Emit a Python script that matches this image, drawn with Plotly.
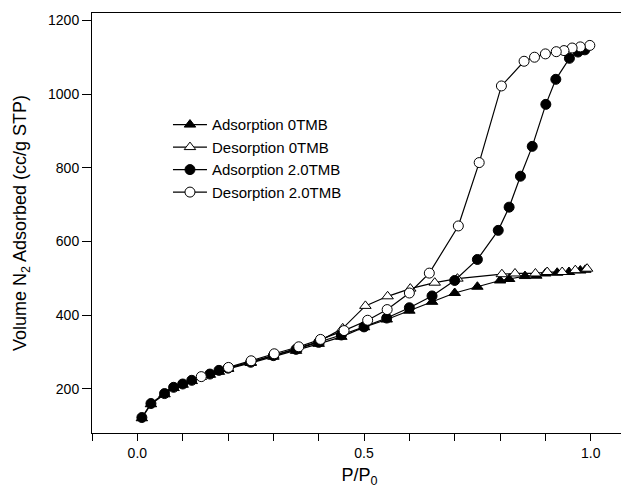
import plotly.graph_objects as go

# Adsorption 0TMB (filled triangles)
ads0_x = [0.01, 0.03, 0.06, 0.08, 0.10, 0.12, 0.16, 0.18, 0.20, 0.25, 0.30, 0.35, 0.40,
          0.45, 0.50, 0.55, 0.60, 0.65, 0.70, 0.75, 0.80, 0.82, 0.855, 0.88, 0.90, 0.926, 0.952, 0.977, 0.988]
ads0_y = [120, 158, 185, 202, 211, 221, 238, 246, 254, 270, 287, 303, 322,
          341, 367, 388, 412, 436, 460, 477, 494, 498, 506, 507, 513, 515, 517, 521, 523]

# Desorption 0TMB (open triangles)
des0_x = [0.992, 0.966, 0.937, 0.904, 0.878, 0.833, 0.804, 0.706, 0.656, 0.602, 0.552, 0.503,
          0.453, 0.40, 0.35, 0.30, 0.25, 0.20, 0.14]
des0_y = [526, 522, 517, 517, 513, 513, 511, 499, 488, 472, 451, 425,
          364, 328, 308, 290, 272, 255, 232]

# Adsorption 2.0TMB (filled circles)
ads2_x = [0.01, 0.03, 0.06, 0.08, 0.10, 0.12, 0.16, 0.18, 0.20, 0.25, 0.30, 0.35, 0.40,
          0.45, 0.50, 0.55, 0.60, 0.65, 0.70, 0.75, 0.796, 0.82, 0.845, 0.871, 0.901, 0.923,
          0.953, 0.972, 0.987]
ads2_y = [122, 160, 187, 204, 213, 223, 240, 250, 256, 272, 290, 307, 326,
          346, 368, 392, 420, 452, 494, 551, 630, 693, 777, 858, 972, 1040,
          1097, 1114, 1120]

# Desorption 2.0TMB (open circles)
des2_x = [0.998, 0.977, 0.959, 0.941, 0.924, 0.900, 0.876, 0.853, 0.803, 0.754, 0.708,
          0.644, 0.600, 0.551, 0.508, 0.456, 0.404, 0.356, 0.302, 0.251, 0.201, 0.141]
des2_y = [1132, 1128, 1125, 1118, 1115, 1109, 1100, 1089, 1022, 814, 642,
          514, 460, 415, 386, 358, 334, 314, 295, 276, 258, 233]

x_tickvals = [0.0, 0.5, 1.0]
x_ticktext = ["0.0", "0.5", "1.0"]
y_tickvals = [200, 400, 600, 800, 1000, 1200]

fig = go.Figure()

def add(x, y, name, symbol, fill):
    fig.add_trace(go.Scatter(
        x=x, y=y, name=name, mode="lines+markers",
        line=dict(color="black", width=1.2),
        marker=dict(symbol=symbol, size=10, color=fill,
                    line=dict(color="black", width=1)),
    ))

add(ads0_x, ads0_y, "Adsorption 0TMB", "triangle-up", "black")
add(des0_x, des0_y, "Desorption 0TMB", "triangle-up", "white")
add(ads2_x, ads2_y, "Adsorption 2.0TMB", "circle", "black")
add(des2_x, des2_y, "Desorption 2.0TMB", "circle", "white")

# The page body adds an 8px margin, so the figure is sized to fit the rest of the window.
fig.update_layout(
    width=621, height=486,
    margin=dict(l=84, r=2, t=5, b=61, autoexpand=False),
    plot_bgcolor="white", paper_bgcolor="white",
    font=dict(family="Liberation Sans, Arial, sans-serif", color="black", size=14),
    showlegend=True,
    legend=dict(x=0.142, y=0.773, xanchor="left", yanchor="top",
                bgcolor="rgba(0,0,0,0)", font=dict(size=15),
                itemwidth=34, tracegroupgap=0),
    xaxis=dict(
        range=[-0.1, 1.08], showline=True, linecolor="black", linewidth=1,
        mirror=True, showgrid=False, zeroline=False, automargin=False,
        tickmode="array", tickvals=x_tickvals, ticktext=x_ticktext,
        ticks="outside", ticklen=7, tickcolor="black",
        tickfont=dict(size=14),
        minor=dict(dtick=0.1, tick0=0, ticks="outside", ticklen=7, tickcolor="black"),
        title=dict(text="P/P<sub>0</sub>", font=dict(size=18), standoff=8),
    ),
    yaxis=dict(
        range=[80, 1220], showline=True, linecolor="black", linewidth=1,
        showgrid=False, zeroline=False, automargin=False,
        tickmode="array", tickvals=y_tickvals,
        ticks="outside", ticklen=9, tickcolor="black",
        tickfont=dict(size=14),
        title=dict(text="Volume N<sub>2</sub> Adsorbed (cc/g STP)", font=dict(size=18), standoff=16),
    ),
)

fig.write_html("out.html")
